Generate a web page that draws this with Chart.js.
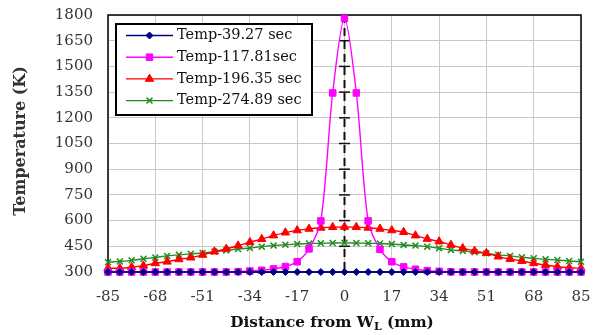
<!DOCTYPE html>
<html><head><meta charset="utf-8">
<script src="https://cdn.jsdelivr.net/npm/chart.js@4/dist/chart.umd.min.js"></script>
<style>html,body{margin:0;padding:0;background:#fff}#wrap{width:598px;height:335px;position:relative}</style>
</head><body><div id="wrap"><canvas id="c"></canvas></div>
<script>
// ---- data ----
const seriesLabels = ['Temp-39.27 sec', 'Temp-117.81sec', 'Temp-196.35 sec', 'Temp-274.89 sec'];
const distances = [-85,-80.75,-76.5,-72.25,-68,-63.75,-59.5,-55.25,-51,-46.75,-42.5,-38.25,-34,-29.75,-25.5,-21.25,-17,-12.75,-8.5,-4.25,0,4.25,8.5,12.75,17,21.25,25.5,29.75,34,38.25,42.5,46.75,51,55.25,59.5,63.75,68,72.25,76.5,80.75,85];
const temp39 = [300,300,300,300,300,300,300,300,300,300,300,300,300,300,300,300,300,300,300,300,300,300,300,300,300,300,300,300,300,300,300,300,300,300,300,300,300,300,300,300,300];
const temp117 = [300,300,300,300,300,300,300,300,300,300,300,302,306,310,318,332,360,435,598,1345,1780,1345,598,432,360,330,316,308,304,301,300,300,300,300,300,300,300,300,300,300,300];
const temp196 = [322,322,328,337,351,360,374,384,400,419,435,454,474,492,513,530,543,552,558,562,563,562,558,552,543,533,513,493,478,458,439,423,410,390,376,364,351,341,331,325,322];
const temp274 = [357,362,368,377,385,394,400,406,411,419,426,434,440,448,454,459,463,466,468,469,470,469,468,466,463,458,454,448,439,429,423,415,409,400,394,386,380,374,370,364,360];
const xTickValues = [-85,-68,-51,-34,-17,0,17,34,51,68,85];
const yTickValues = [300,450,600,750,900,1050,1200,1350,1500,1650,1800];

const seriesValues = [temp39, temp117, temp196, temp274];
const seriesColors = ['#000080', '#FF00FF', '#FF0000', '#228B22'];
const seriesMarkers = ['rectRot', 'rect', 'triangle', 'crossRot'];
const seriesRadius = [3.5, 4.6, 4.8, 4.2];

const SERIF = '"DejaVu Serif", "Liberation Serif", serif';

const datasets = seriesValues.map((vals, i) => ({
  label: seriesLabels[i],
  data: distances.map((d, j) => ({x: d, y: vals[j]})),
  borderColor: seriesColors[i],
  backgroundColor: seriesColors[i],
  pointBackgroundColor: seriesColors[i],
  pointBorderColor: seriesColors[i],
  pointStyle: seriesMarkers[i],
  pointRadius: seriesRadius[i],
  pointBorderWidth: seriesMarkers[i] === 'crossRot' ? 1.5 : 1,
  borderWidth: 1.4,
  tension: 0.3,
  clip: false
}));

const decor = {
  id: 'decor',
  beforeDatasetsDraw(chart) {
    const {ctx, chartArea: ca, scales: {x, y}} = chart;
    const x0 = x.getPixelForValue(0);
    ctx.save();
    ctx.strokeStyle = '#111';
    ctx.lineWidth = 2;
    ctx.setLineDash([8, 5]);
    ctx.beginPath();
    ctx.moveTo(x0, ca.top);
    ctx.lineTo(x0, ca.bottom);
    ctx.stroke();
    ctx.setLineDash([]);
    ctx.lineWidth = 1.5;
    yTickValues.forEach(v => {
      if (v === 300 || v === 1800) return;
      const py = y.getPixelForValue(v);
      ctx.beginPath();
      ctx.moveTo(x0 - 5.5, py);
      ctx.lineTo(x0 + 5.5, py);
      ctx.stroke();
    });
    ctx.strokeStyle = '#000';
    ctx.lineWidth = 1.5;
    ctx.strokeRect(ca.left, ca.top, ca.right - ca.left, ca.bottom - ca.top);
    ctx.restore();
  },
  afterDatasetsDraw(chart) {
    const {ctx, chartArea: ca} = chart;
    ctx.save();
    const bx = ca.left + 8, by = ca.top + 9, bw = 196, bh = 91;
    ctx.fillStyle = '#fff';
    ctx.fillRect(bx, by, bw, bh);
    ctx.strokeStyle = '#000';
    ctx.lineWidth = 2;
    ctx.strokeRect(bx, by, bw, bh);
    ctx.font = '14.5px ' + SERIF;
    ctx.textBaseline = 'middle';
    ctx.textAlign = 'left';
    seriesLabels.forEach((lab, i) => {
      const ry = by + 11.5 + i * 21.7;
      const lx0 = bx + 10, lx1 = bx + 57;
      ctx.strokeStyle = seriesColors[i];
      ctx.lineWidth = 1.4;
      ctx.beginPath();
      ctx.moveTo(lx0, ry);
      ctx.lineTo(lx1, ry);
      ctx.stroke();
      ctx.fillStyle = seriesColors[i];
      ctx.lineWidth = seriesMarkers[i] === 'crossRot' ? 1.5 : 1;
      Chart.helpers.drawPoint(ctx, {pointStyle: seriesMarkers[i], radius: seriesRadius[i], rotation: 0, borderWidth: 1}, (lx0 + lx1) / 2, ry);
      ctx.fillStyle = '#111';
      ctx.fillText(lab, bx + 61, ry);
    });
    ctx.restore();
  },
  afterDraw(chart) {
    const {ctx} = chart;
    ctx.save();
    ctx.fillStyle = '#333';
    ctx.font = 'bold 16px ' + SERIF;
    ctx.textAlign = 'center';
    ctx.textBaseline = 'middle';
    ctx.translate(21, 141);
    ctx.rotate(-Math.PI / 2);
    ctx.fillText('Temperature (K)', 0, 0);
    ctx.restore();
    ctx.save();
    ctx.fillStyle = '#111';
    ctx.textBaseline = 'alphabetic';
    ctx.textAlign = 'left';
    const big = 'bold 15.3px ' + SERIF, small = 'bold 11px ' + SERIF;
    const p1 = 'Distance from W', p2 = 'L', p3 = ' (mm)';
    ctx.font = big; const w1 = ctx.measureText(p1).width, w3 = ctx.measureText(p3).width;
    ctx.font = small; const w2 = ctx.measureText(p2).width;
    const total = w1 + w2 + w3;
    let sx = 332 - total / 2;
    const base = 327;
    ctx.font = big; ctx.fillText(p1, sx, base); sx += w1;
    ctx.font = small; ctx.fillText(p2, sx, base + 3); sx += w2;
    ctx.font = big; ctx.fillText(p3, sx, base);
    ctx.restore();
  }
};

new Chart(document.getElementById('c'), {
  type: 'line',
  data: { datasets },
  options: {
    responsive: true,
    maintainAspectRatio: false,
    animation: false,
    devicePixelRatio: 1,
    layout: { padding: { left: 0, right: 17, top: 15, bottom: 0 } },
    plugins: { legend: { display: false }, tooltip: { enabled: false } },
    scales: {
      x: {
        type: 'linear',
        min: -85, max: 85,
        afterBuildTicks: s => { s.ticks = xTickValues.map(v => ({value: v})); },
        afterFit: s => { s.height = 63; s.paddingLeft = 0; s.paddingRight = 0; },
        grid: { color: '#c8c8c8', lineWidth: 1, drawTicks: false },
        border: { display: false },
        ticks: { padding: 16, color: '#333', font: { family: SERIF, size: 15 }, maxRotation: 0, autoSkip: false, callback: v => String(v) }
      },
      y: {
        type: 'linear',
        min: 300, max: 1800,
        afterBuildTicks: s => { s.ticks = yTickValues.map(v => ({value: v})); },
        afterFit: s => { s.width = 108; s.paddingTop = 0; s.paddingBottom = 0; },
        grid: { color: '#c8c8c8', lineWidth: 1, drawTicks: false },
        border: { display: false },
        ticks: { padding: 15, color: '#333', font: { family: SERIF, size: 15 }, autoSkip: false, callback: v => String(v) }
      }
    }
  },
  plugins: [decor]
});
</script>
</body></html>
